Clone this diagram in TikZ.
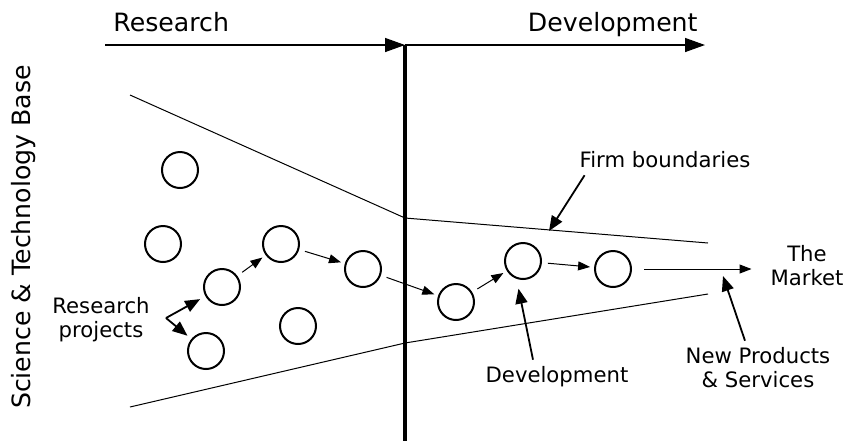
\documentclass[tikz,border=0pt]{standalone}
\usepackage{fontspec}
\setmainfont{DejaVu Sans}
\usetikzlibrary{arrows.meta}

\begin{document}
\begin{tikzpicture}[x=.5pt,y=-.5pt,
  proj/.style={draw,circle,line width=1pt,minimum size=18pt,inner sep=0pt},
  flow/.style={-{Triangle[length=6pt,width=4.5pt]},line width=.5pt,shorten <=3pt,shorten >=2pt},
  pointer/.style={-{Triangle[length=7.5pt,width=6pt]},line width=.9pt},
  axis/.style={-{Triangle[length=10pt,width=7pt]},line width=.7pt},
  big/.style={font=\fontsize{12.6}{15}\selectfont,inner sep=0pt},
  lbl/.style={font=\fontsize{10.6}{12}\selectfont,align=center}]
\useasboundingbox (0,0) rectangle (847,441);

% research -> development axis
\coordinate (r0) at (105,45);
\coordinate (mid) at (405,45);
\coordinate (d1) at (705,45);
\coordinate (bot) at (405,441);
\draw[axis] (r0) -- (mid);
\draw[axis] (mid) -- (d1);
\draw[line width=2pt] (mid) -- (bot);
\node[big,anchor=base west] (res) at (113,31) {Research};
\node[big,anchor=base east] (dev) at (698,31) {Development};
\node[big,rotate=90] (stb) at (24,237) {Science \& Technology Base};

% firm boundaries
\draw[line width=.5pt] (130,95) -- (405,218) -- (708,243);
\draw[line width=.5pt] (130,407) -- (405,343) -- (708,294);

% projects
\node[proj] (c0) at (180,170) {};
\node[proj] (c1) at (163,244) {};
\node[proj] (c2) at (222,287) {};
\node[proj] (c3) at (281,244) {};
\node[proj] (c4) at (363,269) {};
\node[proj] (c5) at (206,351) {};
\node[proj] (c6) at (298,326) {};
\node[proj] (c7) at (456,302) {};
\node[proj] (c8) at (523,261) {};
\node[proj] (c9) at (613,269) {};

\draw[flow] (c2) -- (c3);
\draw[flow] (c3) -- (c4);
\draw[flow] (c4) -- (c7);
\draw[flow] (c7) -- (c8);
\draw[flow] (c8) -- (c9);

% labels
\node[lbl] (mk) at (807,266) {The\\Market};
\draw[flow,shorten <=6pt,shorten >=6pt] (c9) -- (c9 -| mk.west);

\node[lbl] (rp) at (101,320) {Research\\projects};
\coordinate (rpf) at (166,318);
\draw[pointer,shorten >=3pt] (rpf) -- (c2);
\draw[pointer,shorten >=2.5pt] (rpf) -- (c5);

\node[lbl] (fb) at (665,160) {Firm boundaries};
\coordinate (fbp) at (549,231);
\draw[pointer] ([xshift=6pt]fb.south west) -- (fbp);

\node[lbl] (dl) at (557,377) {Development};
\draw[pointer,shorten >=5pt] ([xshift=-12pt]dl.north) -- (c8.-110);

\node[lbl] (np) at (758,368) {New Products\\\& Services};
\coordinate (npp) at (723,276);
\draw[pointer] ([xshift=-6.5pt]np.north) -- (npp);
\end{tikzpicture}
\end{document}
